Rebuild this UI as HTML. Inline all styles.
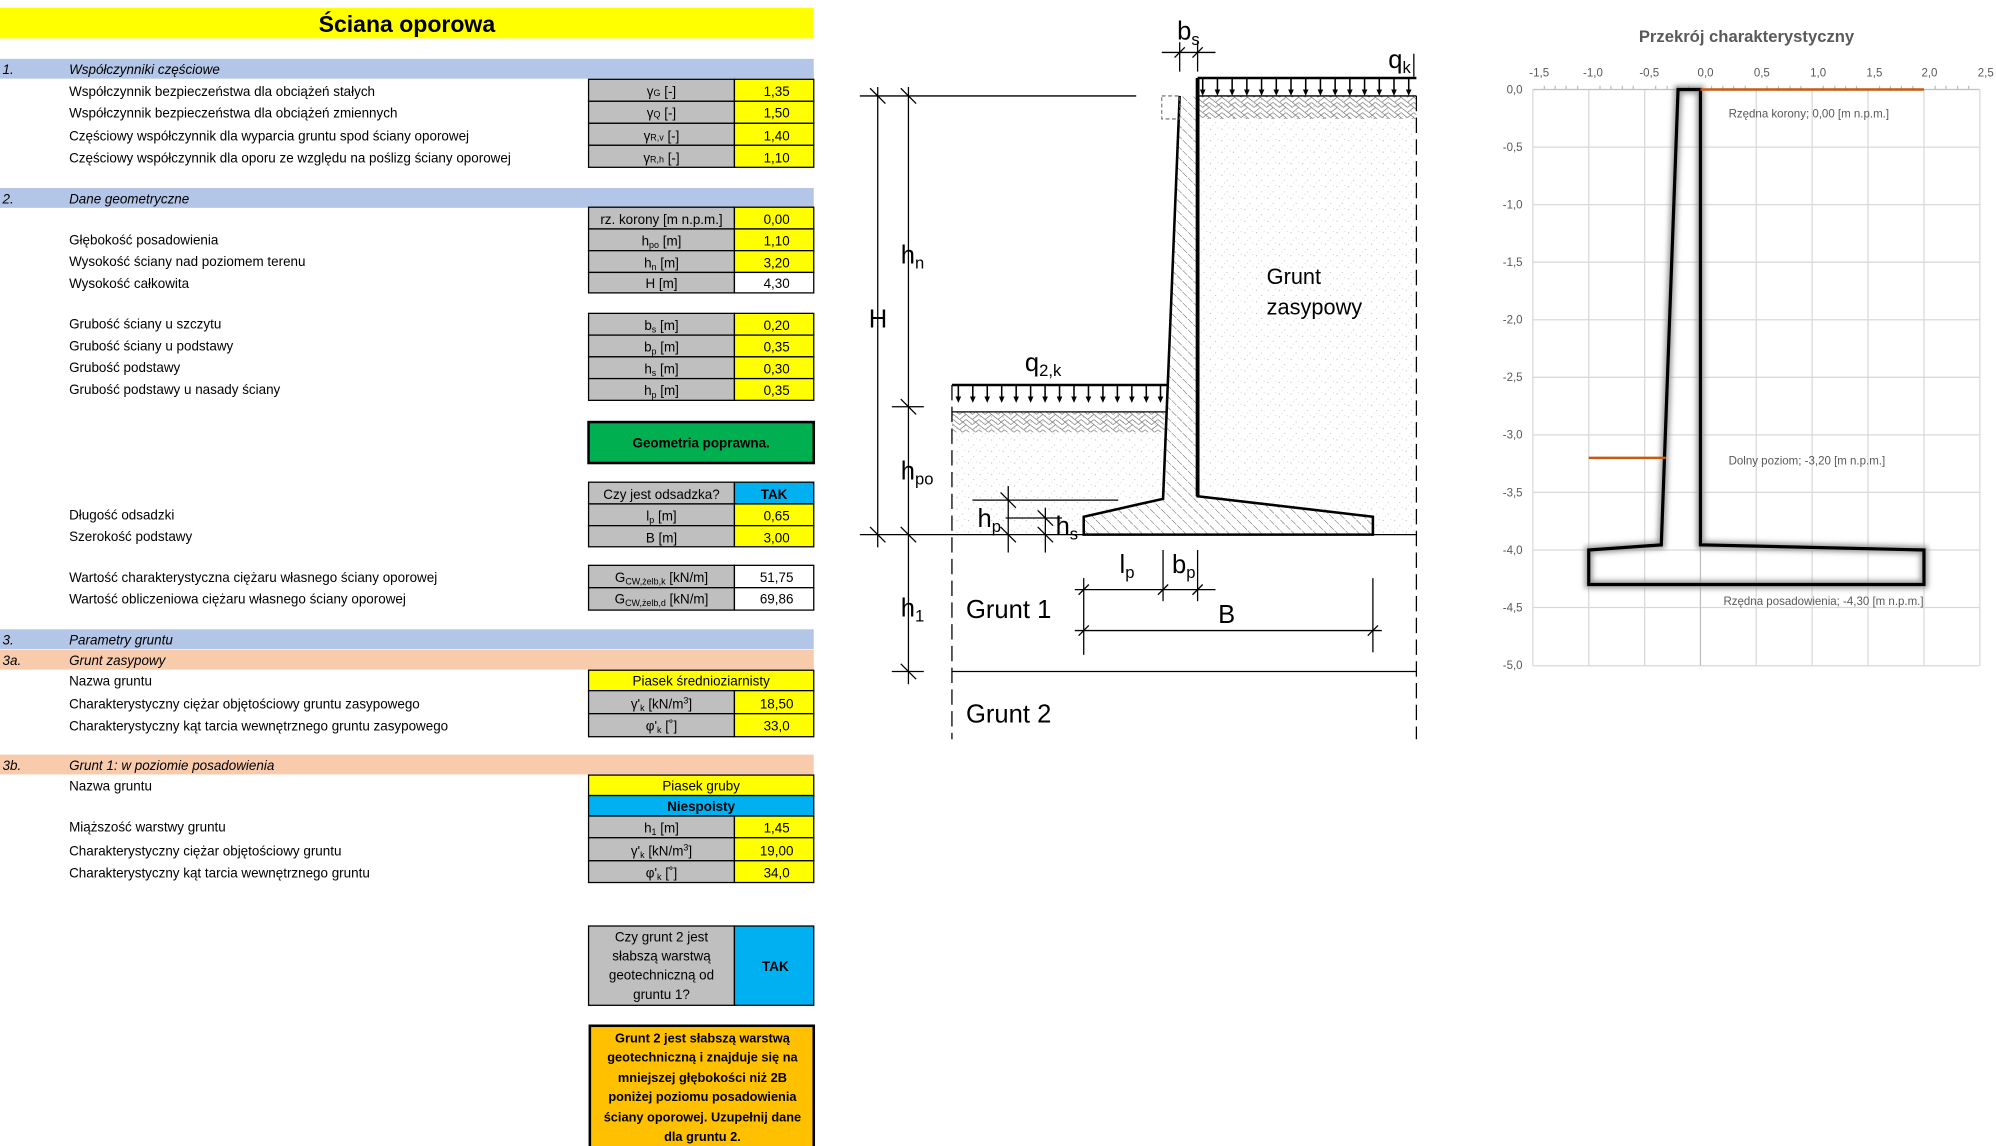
<!DOCTYPE html>
<html><head><meta charset="utf-8"><style>
html,body{margin:0;padding:0;background:#fff;width:1996px;height:1146px;overflow:hidden}
svg{display:block}
text{font-family:"Liberation Sans",sans-serif}
.l{font-size:10.5px;fill:#000}
.c{font-size:10.5px;text-anchor:middle}
.h{font-size:10.5px;font-style:italic}
.d{font-size:20px;fill:#000}
.g{font-size:9px;fill:#595959}
</style></head><body>
<svg width="1996" height="1146" viewBox="0 0 1560 896" preserveAspectRatio="none" xmlns="http://www.w3.org/2000/svg">
<defs>
<pattern id="hat" width="6" height="6" patternUnits="userSpaceOnUse" patternTransform="rotate(-45)">
<line x1="0" y1="0" x2="0" y2="6" stroke="#333" stroke-width="0.6" stroke-dasharray="4 1"/></pattern>
<pattern id="dots" width="9" height="9" patternUnits="userSpaceOnUse">
<rect width="9" height="9" fill="#fff"/><circle cx="1" cy="2" r="0.4" fill="#999"/><circle cx="5" cy="6" r="0.4" fill="#aaa"/><circle cx="7" cy="1" r="0.35" fill="#bbb"/><circle cx="3" cy="8" r="0.35" fill="#bbb"/></pattern>
<pattern id="herr" width="10" height="8" patternUnits="userSpaceOnUse">
<path d="M0 0 L5 4 M5 0 L10 4 M0 4 L5 0 M5 4 L10 8 M0 8 L5 4" stroke="#666" stroke-width="0.5" fill="none"/></pattern>
<g id="ar"><line x1="0" y1="0" x2="0" y2="10" stroke="#000" stroke-width="1.2"/><path d="M-2.2 9 L2.2 9 L0 14 Z" fill="#000"/></g>
<filter id="sh" x="-20%" y="-20%" width="140%" height="140%"><feGaussianBlur stdDeviation="2"/></filter>
</defs>

<!-- LEFT TABLE -->
<rect x="0" y="6" width="636" height="24" fill="#ffff00"/>
<text x="318" y="25" text-anchor="middle" font-size="18" font-weight="bold">Ściana oporowa</text>

<g class="l">
<rect x="0" y="46" width="636" height="15.5" fill="#b4c6e7"/>
<text x="2" y="58" class="h">1.</text><text x="54" y="58" class="h">Współczynniki częściowe</text>
<text x="54" y="75">Współczynnik bezpieczeństwa dla obciążeń stałych</text>
<text x="54" y="92">Współczynnik bezpieczeństwa dla obciążeń zmiennych</text>
<text x="54" y="110">Częściowy współczynnik dla wyparcia gruntu spod ściany oporowej</text>
<text x="54" y="127">Częściowy współczynnik dla oporu ze względu na poślizg ściany oporowej</text>

<rect x="0" y="147" width="636" height="15.5" fill="#b4c6e7"/>
<text x="2" y="159" class="h">2.</text><text x="54" y="159" class="h">Dane geometryczne</text>
<text x="54" y="191">Głębokość posadowienia</text>
<text x="54" y="208">Wysokość ściany nad poziomem terenu</text>
<text x="54" y="225">Wysokość całkowita</text>
<text x="54" y="257">Grubość ściany u szczytu</text>
<text x="54" y="274">Grubość ściany u podstawy</text>
<text x="54" y="291">Grubość podstawy</text>
<text x="54" y="308">Grubość podstawy u nasady ściany</text>
<text x="54" y="406">Długość odsadzki</text>
<text x="54" y="423">Szerokość podstawy</text>
<text x="54" y="455">Wartość charakterystyczna ciężaru własnego ściany oporowej</text>
<text x="54" y="472">Wartość obliczeniowa ciężaru własnego ściany oporowej</text>

<rect x="0" y="492" width="636" height="15.5" fill="#b4c6e7"/>
<text x="2" y="504" class="h">3.</text><text x="54" y="504" class="h">Parametry gruntu</text>
<rect x="0" y="508" width="636" height="15.5" fill="#f8cbad"/>
<text x="2" y="520" class="h">3a.</text><text x="54" y="520" class="h">Grunt zasypowy</text>
<text x="54" y="536">Nazwa gruntu</text>
<text x="54" y="554">Charakterystyczny ciężar objętościowy gruntu zasypowego</text>
<text x="54" y="571">Charakterystyczny kąt tarcia wewnętrznego gruntu zasypowego</text>
<rect x="0" y="590" width="636" height="15.5" fill="#f8cbad"/>
<text x="2" y="602" class="h">3b.</text><text x="54" y="602" class="h">Grunt 1: w poziomie posadowienia</text>
<text x="54" y="618">Nazwa gruntu</text>
<text x="54" y="650">Miąższość warstwy gruntu</text>
<text x="54" y="669">Charakterystyczny ciężar objętościowy gruntu</text>
<text x="54" y="686">Charakterystyczny kąt tarcia wewnętrznego gruntu</text>
</g>

<g stroke="#000" stroke-width="1">
<!-- sec1 -->
<rect x="460" y="62" width="114" height="17.2" fill="#bfbfbf"/><rect x="574" y="62" width="62" height="17.2" fill="#ffff00"/>
<rect x="460" y="79.2" width="114" height="17.2" fill="#bfbfbf"/><rect x="574" y="79.2" width="62" height="17.2" fill="#ffff00"/>
<rect x="460" y="96.4" width="114" height="17.2" fill="#bfbfbf"/><rect x="574" y="96.4" width="62" height="17.2" fill="#ffff00"/>
<rect x="460" y="113.6" width="114" height="17.2" fill="#bfbfbf"/><rect x="574" y="113.6" width="62" height="17.2" fill="#ffff00"/>
<!-- sec2 -->
<rect x="460" y="162" width="114" height="17" fill="#bfbfbf"/><rect x="574" y="162" width="62" height="17" fill="#ffff00"/>
<rect x="460" y="179" width="114" height="17" fill="#bfbfbf"/><rect x="574" y="179" width="62" height="17" fill="#ffff00"/>
<rect x="460" y="196" width="114" height="17" fill="#bfbfbf"/><rect x="574" y="196" width="62" height="17" fill="#ffff00"/>
<rect x="460" y="213" width="114" height="16" fill="#bfbfbf"/><rect x="574" y="213" width="62" height="16" fill="#fff"/>
<rect x="460" y="245" width="114" height="17" fill="#bfbfbf"/><rect x="574" y="245" width="62" height="17" fill="#ffff00"/>
<rect x="460" y="262" width="114" height="17" fill="#bfbfbf"/><rect x="574" y="262" width="62" height="17" fill="#ffff00"/>
<rect x="460" y="279" width="114" height="17" fill="#bfbfbf"/><rect x="574" y="279" width="62" height="17" fill="#ffff00"/>
<rect x="460" y="296" width="114" height="17" fill="#bfbfbf"/><rect x="574" y="296" width="62" height="17" fill="#ffff00"/>
<rect x="460" y="330" width="176" height="32" fill="#00b050" stroke-width="2"/>
<rect x="460" y="377" width="114" height="17" fill="#bfbfbf"/><rect x="574" y="377" width="62" height="17" fill="#00b0f0"/>
<rect x="460" y="394" width="114" height="17" fill="#bfbfbf"/><rect x="574" y="394" width="62" height="17" fill="#ffff00"/>
<rect x="460" y="411" width="114" height="16.5" fill="#bfbfbf"/><rect x="574" y="411" width="62" height="16.5" fill="#ffff00"/>
<rect x="460" y="442" width="114" height="17.5" fill="#bfbfbf"/><rect x="574" y="442" width="62" height="17.5" fill="#fff"/>
<rect x="460" y="459.5" width="114" height="17.5" fill="#bfbfbf"/><rect x="574" y="459.5" width="62" height="17.5" fill="#fff"/>
<!-- sec3 -->
<rect x="460" y="524" width="176" height="16" fill="#ffff00"/>
<rect x="460" y="540" width="114" height="18" fill="#bfbfbf"/><rect x="574" y="540" width="62" height="18" fill="#ffff00"/>
<rect x="460" y="558" width="114" height="18" fill="#bfbfbf"/><rect x="574" y="558" width="62" height="18" fill="#ffff00"/>
<rect x="460" y="606" width="176" height="16" fill="#ffff00"/>
<rect x="460" y="622" width="176" height="16" fill="#00b0f0"/>
<rect x="460" y="638" width="114" height="17" fill="#bfbfbf"/><rect x="574" y="638" width="62" height="17" fill="#ffff00"/>
<rect x="460" y="655" width="114" height="18" fill="#bfbfbf"/><rect x="574" y="655" width="62" height="18" fill="#ffff00"/>
<rect x="460" y="673" width="114" height="17" fill="#bfbfbf"/><rect x="574" y="673" width="62" height="17" fill="#ffff00"/>
<rect x="460" y="724" width="114" height="62" fill="#bfbfbf"/><rect x="574" y="724" width="62" height="62" fill="#00b0f0"/>
<rect x="461" y="802" width="175" height="95" fill="#ffc000" stroke-width="2"/>
</g>

<g class="c">
<text x="517" y="75">γ<tspan font-size="7">G</tspan> [-]</text><text x="607" y="75">1,35</text>
<text x="517" y="92">γ<tspan font-size="7">Q</tspan> [-]</text><text x="607" y="92">1,50</text>
<text x="517" y="110">γ<tspan font-size="7">R,v</tspan> [-]</text><text x="607" y="110">1,40</text>
<text x="517" y="127">γ<tspan font-size="7">R,h</tspan> [-]</text><text x="607" y="127">1,10</text>
<text x="517" y="175">rz. korony [m n.p.m.]</text><text x="607" y="175">0,00</text>
<text x="517" y="192">h<tspan font-size="7" dy="2">po</tspan><tspan dy="-2"> [m]</tspan></text><text x="607" y="192">1,10</text>
<text x="517" y="209">h<tspan font-size="7" dy="2">n</tspan><tspan dy="-2"> [m]</tspan></text><text x="607" y="209">3,20</text>
<text x="517" y="225">H [m]</text><text x="607" y="225">4,30</text>
<text x="517" y="258">b<tspan font-size="7" dy="2">s</tspan><tspan dy="-2"> [m]</tspan></text><text x="607" y="258">0,20</text>
<text x="517" y="275">b<tspan font-size="7" dy="2">p</tspan><tspan dy="-2"> [m]</tspan></text><text x="607" y="275">0,35</text>
<text x="517" y="292">h<tspan font-size="7" dy="2">s</tspan><tspan dy="-2"> [m]</tspan></text><text x="607" y="292">0,30</text>
<text x="517" y="309">h<tspan font-size="7" dy="2">p</tspan><tspan dy="-2"> [m]</tspan></text><text x="607" y="309">0,35</text>
<text x="548" y="350" font-weight="bold">Geometria poprawna.</text>
<text x="517" y="390">Czy jest odsadzka?</text><text x="605" y="390" font-weight="bold">TAK</text>
<text x="517" y="407">l<tspan font-size="7" dy="2">p</tspan><tspan dy="-2"> [m]</tspan></text><text x="607" y="407">0,65</text>
<text x="517" y="424">B [m]</text><text x="607" y="424">3,00</text>
<text x="517" y="455">G<tspan font-size="7" dy="2">CW,żelb,k</tspan><tspan dy="-2"> [kN/m]</tspan></text><text x="607" y="455">51,75</text>
<text x="517" y="472">G<tspan font-size="7" dy="2">CW,żelb,d</tspan><tspan dy="-2"> [kN/m]</tspan></text><text x="607" y="472">69,86</text>
<text x="548" y="536">Piasek średnioziarnisty</text>
<text x="517" y="554">γ'<tspan font-size="7" dy="2">k</tspan><tspan dy="-2"> [kN/m</tspan><tspan font-size="7" dy="-4">3</tspan><tspan dy="4">]</tspan></text><text x="607" y="554">18,50</text>
<text x="517" y="571">φ'<tspan font-size="7" dy="2">k</tspan><tspan dy="-2"> [˚]</tspan></text><text x="607" y="571">33,0</text>
<text x="548" y="618">Piasek gruby</text>
<text x="548" y="634" font-weight="bold">Niespoisty</text>
<text x="517" y="651">h<tspan font-size="7" dy="2">1</tspan><tspan dy="-2"> [m]</tspan></text><text x="607" y="651">1,45</text>
<text x="517" y="669">γ'<tspan font-size="7" dy="2">k</tspan><tspan dy="-2"> [kN/m</tspan><tspan font-size="7" dy="-4">3</tspan><tspan dy="4">]</tspan></text><text x="607" y="669">19,00</text>
<text x="517" y="686">φ'<tspan font-size="7" dy="2">k</tspan><tspan dy="-2"> [˚]</tspan></text><text x="607" y="686">34,0</text>
<text x="517" y="736">Czy grunt 2 jest</text>
<text x="517" y="751">słabszą warstwą</text>
<text x="517" y="766">geotechniczną od</text>
<text x="517" y="781">gruntu 1?</text>
<text x="606" y="759" font-weight="bold">TAK</text>
<g font-weight="bold" font-size="10">
<text x="549" y="815">Grunt 2 jest słabszą warstwą</text>
<text x="549" y="830">geotechniczną i znajduje się na</text>
<text x="549" y="846">mniejszej głębokości niż 2B</text>
<text x="549" y="861">poniżej poziomu posadowienia</text>
<text x="549" y="877">ściany oporowej. Uzupełnij dane</text>
<text x="549" y="892">dla gruntu 2.</text>
</g>
</g>

<!-- DRAWING -->
<g>
<!-- soil fills -->
<rect x="936" y="75" width="171" height="343" fill="url(#dots)"/>
<rect x="936" y="75" width="171" height="18" fill="url(#herr)"/>
<path d="M744 322 L912 322 L909 390 L847 404 L847 418 L744 418 Z" fill="url(#dots)"/>
<rect x="744" y="322" width="166" height="16" fill="url(#herr)"/>
<!-- wall -->
<path d="M922 75 L936 75 L936 388 L1073 404 L1073 418 L847 418 L847 404 L909 390 Z" fill="#fff"/>
<path d="M922 75 L936 75 L936 388 L1073 404 L1073 418 L847 418 L847 404 L909 390 Z" fill="url(#hat)"/>
<path d="M922 75 L909 390 L847 404 L847 418 L1073 418 L1073 404 L936 388 L936 75" fill="none" stroke="#000" stroke-width="2"/>
<line x1="936" y1="61" x2="936" y2="388" stroke="#000" stroke-width="3"/>
<rect x="908" y="75" width="14" height="18" fill="none" stroke="#666" stroke-width="0.8" stroke-dasharray="3 2"/>
<g stroke="#000" fill="none" stroke-width="1">
<line x1="672" y1="75" x2="888" y2="75"/>
<line x1="936" y1="75" x2="1107" y2="75"/>
<line x1="744" y1="322" x2="911" y2="322"/>
<line x1="672" y1="418" x2="1107" y2="418"/>
<line x1="744" y1="525" x2="1107" y2="525"/>
<line x1="744" y1="301" x2="744" y2="578" stroke-dasharray="12 5"/>
<line x1="1107" y1="75" x2="1107" y2="578" stroke-dasharray="12 5"/>
<!-- dims -->
<line x1="686" y1="68" x2="686" y2="428"/>
<line x1="710" y1="68" x2="710" y2="535"/>
<line x1="710" y1="318" x2="722" y2="318"/><line x1="697" y1="318" x2="710" y2="318"/>
<line x1="697" y1="525" x2="722" y2="525"/>
<path d="M680 69 L692 81 M704 69 L716 81 M680 412 L692 424 M704 412 L716 424 M704 312 L716 324 M704 519 L716 531"/>
<line x1="788" y1="380" x2="788" y2="432"/><line x1="760" y1="391" x2="874" y2="391"/>
<line x1="817" y1="397" x2="817" y2="432"/><line x1="786" y1="405" x2="830" y2="405"/>
<path d="M782 385 L794 397 M782 412 L794 424 M811 399 L823 411 M811 412 L823 424"/>
<line x1="909" y1="430" x2="909" y2="470"/><line x1="936" y1="430" x2="936" y2="470"/>
<line x1="847" y1="452" x2="847" y2="512"/><line x1="1073" y1="452" x2="1073" y2="510"/>
<line x1="840" y1="461" x2="950" y2="461"/><line x1="840" y1="493" x2="1080" y2="493"/>
<path d="M843 465 L851 457 M905 465 L913 457 M932 465 L940 457 M843 497 L851 489 M1069 497 L1077 489"/>
<line x1="908" y1="41" x2="950" y2="41"/><line x1="922" y1="33" x2="922" y2="56"/><line x1="936" y1="33" x2="936" y2="56"/>
<path d="M918 45 L926 37 M932 45 L940 37"/>
<line x1="1105" y1="42" x2="1105" y2="60"/>
</g>
<line x1="936" y1="61" x2="1107" y2="61" stroke="#000" stroke-width="2"/>
<line x1="744" y1="301" x2="912" y2="301" stroke="#000" stroke-width="2"/>
<g>
<use href="#ar" x="940" y="61"/><use href="#ar" x="951.5" y="61"/><use href="#ar" x="963" y="61"/><use href="#ar" x="974.5" y="61"/><use href="#ar" x="986" y="61"/><use href="#ar" x="997.5" y="61"/><use href="#ar" x="1009" y="61"/><use href="#ar" x="1020.5" y="61"/><use href="#ar" x="1032" y="61"/><use href="#ar" x="1043.5" y="61"/><use href="#ar" x="1055" y="61"/><use href="#ar" x="1066.5" y="61"/><use href="#ar" x="1078" y="61"/><use href="#ar" x="1089.5" y="61"/><use href="#ar" x="1101" y="61"/>
<use href="#ar" x="749" y="301"/><use href="#ar" x="760.3" y="301"/><use href="#ar" x="771.6" y="301"/><use href="#ar" x="782.9" y="301"/><use href="#ar" x="794.2" y="301"/><use href="#ar" x="805.5" y="301"/><use href="#ar" x="816.8" y="301"/><use href="#ar" x="828.1" y="301"/><use href="#ar" x="839.4" y="301"/><use href="#ar" x="850.7" y="301"/><use href="#ar" x="862" y="301"/><use href="#ar" x="873.3" y="301"/><use href="#ar" x="884.6" y="301"/><use href="#ar" x="895.9" y="301"/><use href="#ar" x="907" y="301"/>
</g>
<g class="d">
<text x="679" y="256">H</text>
<text x="704" y="206">h<tspan font-size="13" dy="4">n</tspan></text>
<text x="704" y="375">h<tspan font-size="13" dy="4">po</tspan></text>
<text x="704" y="482">h<tspan font-size="13" dy="4">1</tspan></text>
<text x="764" y="412">h<tspan font-size="13" dy="4">p</tspan></text>
<text x="825" y="418">h<tspan font-size="13" dy="4">s</tspan></text>
<text x="875" y="448">l<tspan font-size="13" dy="4">p</tspan></text>
<text x="916" y="448">b<tspan font-size="13" dy="4">p</tspan></text>
<text x="920" y="31">b<tspan font-size="13" dy="4">s</tspan></text>
<text x="1085" y="53">q<tspan font-size="13" dy="4">k</tspan></text>
<text x="801" y="290">q<tspan font-size="13" dy="4">2,k</tspan></text>
<text x="952" y="487">B</text>
<text x="755" y="483">Grunt  1</text>
<text x="755" y="565">Grunt  2</text>
<text x="990" y="222" font-size="17">Grunt</text>
<text x="990" y="246" font-size="17">zasypowy</text>
</g>
</g>

<!-- CHART -->
<text x="1365" y="33" text-anchor="middle" font-size="13" font-weight="bold" fill="#595959">Przekrój charakterystyczny</text>
<g stroke="#d9d9d9" stroke-width="1">
<line x1="1198" y1="115" x2="1547" y2="115"/><line x1="1198" y1="160" x2="1547" y2="160"/><line x1="1198" y1="205" x2="1547" y2="205"/><line x1="1198" y1="250" x2="1547" y2="250"/><line x1="1198" y1="295" x2="1547" y2="295"/><line x1="1198" y1="340" x2="1547" y2="340"/><line x1="1198" y1="385" x2="1547" y2="385"/><line x1="1198" y1="430" x2="1547" y2="430"/><line x1="1198" y1="475" x2="1547" y2="475"/><line x1="1198" y1="520.5" x2="1547" y2="520.5"/>
<line x1="1198" y1="70" x2="1198" y2="520.5"/><line x1="1241.7" y1="70" x2="1241.7" y2="520.5"/><line x1="1285.4" y1="70" x2="1285.4" y2="520.5"/><line x1="1372.6" y1="70" x2="1372.6" y2="520.5"/><line x1="1416.3" y1="70" x2="1416.3" y2="520.5"/><line x1="1460" y1="70" x2="1460" y2="520.5"/><line x1="1503.7" y1="70" x2="1503.7" y2="520.5"/><line x1="1547.4" y1="70" x2="1547.4" y2="520.5"/>
</g>
<g stroke="#bfbfbf" stroke-width="1">
<line x1="1198" y1="70" x2="1547" y2="70"/>
<line x1="1329" y1="70" x2="1329" y2="520.5"/>
<path d="M1207 67v3M1215.5 67v3M1224 67v3M1233 67v3M1250.5 67v3M1259 67v3M1268 67v3M1276.5 67v3M1294 67v3M1303 67v3M1311.5 67v3M1320 67v3M1337.7 67v3M1346.5 67v3M1355 67v3M1364 67v3M1381 67v3M1390 67v3M1399 67v3M1407.5 67v3M1425 67v3M1434 67v3M1442.5 67v3M1451 67v3M1469 67v3M1477.5 67v3M1486 67v3M1495 67v3M1512.5 67v3M1521 67v3M1530 67v3M1538.6 67v3"/>
</g>
<g class="g" font-size="8.5">
<text x="1203" y="60" text-anchor="middle">-1,5</text><text x="1245" y="60" text-anchor="middle">-1,0</text><text x="1289" y="60" text-anchor="middle">-0,5</text><text x="1333" y="60" text-anchor="middle">0,0</text><text x="1377" y="60" text-anchor="middle">0,5</text><text x="1421" y="60" text-anchor="middle">1,0</text><text x="1465" y="60" text-anchor="middle">1,5</text><text x="1508" y="60" text-anchor="middle">2,0</text><text x="1552" y="60" text-anchor="middle">2,5</text>
<g text-anchor="end">
<text x="1190" y="73">0,0</text><text x="1190" y="118">-0,5</text><text x="1190" y="163">-1,0</text><text x="1190" y="208">-1,5</text><text x="1190" y="253">-2,0</text><text x="1190" y="298">-2,5</text><text x="1190" y="343">-3,0</text><text x="1190" y="388">-3,5</text><text x="1190" y="433">-4,0</text><text x="1190" y="478">-4,5</text><text x="1190" y="523">-5,0</text>
</g>
</g>
<path d="M1311.5 70 L1329 70 L1329 426 L1503.7 430 L1503.7 457 L1241.7 457 L1241.7 430 L1298.4 426 Z" fill="none" stroke="#999" stroke-width="6" filter="url(#sh)"/>
<path d="M1311.5 70 L1329 70 L1329 426 L1503.7 430 L1503.7 457 L1241.7 457 L1241.7 430 L1298.4 426 Z" fill="none" stroke="#000" stroke-width="2.5"/>
<line x1="1329" y1="72" x2="1503.7" y2="72" stroke="#f4b183" stroke-width="4" opacity="0.5" filter="url(#sh)"/>
<line x1="1329" y1="70" x2="1503.7" y2="70" stroke="#c55a11" stroke-width="2"/>
<line x1="1241.7" y1="358" x2="1302" y2="358" stroke="#c55a11" stroke-width="2"/>
<g class="g">
<text x="1351" y="92">Rzędna korony; 0,00 [m n.p.m.]</text>
<text x="1351" y="363">Dolny poziom; -3,20 [m n.p.m.]</text>
<text x="1347" y="473">Rzędna posadowienia; -4,30 [m n.p.m.]</text>
</g>
</svg>
</body></html>
